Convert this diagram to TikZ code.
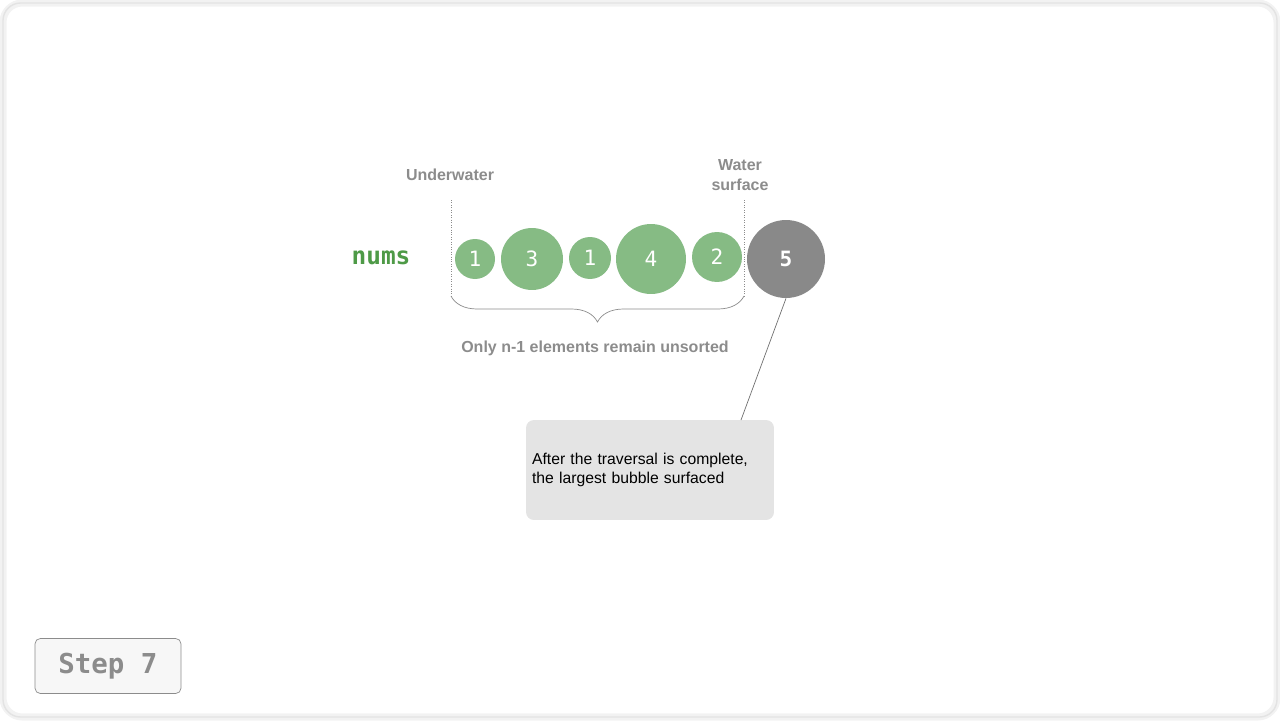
\documentclass[tikz,border=0pt]{standalone}
\usepackage{fontspec}
\setmainfont{Liberation Sans}
\newfontfamily\monofont{DejaVu Sans Mono}
\usetikzlibrary{decorations.pathreplacing}
\definecolor{bubblegreen}{HTML}{86BB84}
\definecolor{numsgreen}{HTML}{4E9A47}
\definecolor{labelgray}{HTML}{8C8C8C}
\definecolor{surfacegray}{HTML}{898989}
\definecolor{notegray}{HTML}{E4E4E4}
\tikzset{
	bubble/.style={circle, fill=bubblegreen, text=white, inner sep=0pt, font=\monofont\fontsize{12}{12}\selectfont},
	toplabel/.style={text=labelgray, font=\bfseries\fontsize{9.1}{11}\selectfont, align=center},
}

\begin{document}
\begin{tikzpicture}[x=0.02cm, y=-0.02cm]
	\useasboundingbox (0,0) rectangle (1280,720);
	\draw [gray!10, line width=4pt, rounded corners=11pt] (3,3) rectangle (1277,717);
	\draw [gray!22, line width=0.8pt, rounded corners=10pt] (3,3) rectangle (1277,717);

	\node [text=numsgreen, font=\monofont\bfseries\fontsize{13.9}{13.9}\selectfont] (nums) at (381,258) {nums};

	\node [bubble, minimum size=0.8cm] (b1) at (475,259) {1};
	\node [bubble, minimum size=1.24cm] (b2) at (532,259) {3};
	\node [bubble, minimum size=0.84cm] (b3) at (590,258) {1};
	\node [bubble, minimum size=1.4cm] (b4) at (651,259) {4};
	\node [bubble, minimum size=1.0cm] (b5) at (717,257) {2};
	\node [bubble, fill=surfacegray, minimum size=1.56cm, font=\monofont\bfseries\fontsize{12}{12}\selectfont] (top) at (786,259) {5};

	\node [toplabel] (under) at (450,175) {Underwater};
	\node [toplabel] (surface) at (740,175) {Water\\surface};

	\draw [labelgray, densely dotted, line width=0.4pt] (451,200) -- (451,296);
	\draw [labelgray, densely dotted, line width=0.4pt] (744,200) -- (744,296);
	\draw [labelgray, line width=0.4pt, decorate, decoration={brace, amplitude=0.52cm}] (744,296) -- (451,296);

	\node [toplabel] (unsorted) at (595,348) {Only n-1 elements remain unsorted};

	\node [fill=notegray, rounded corners=4.5pt, minimum width=4.96cm, minimum height=2cm, text width=4.72cm, inner xsep=0.12cm, align=left, font=\fontsize{8.95}{10.8}\selectfont] (note) at (650,470) {After the traversal is complete,\\the largest bubble surfaced};
	\coordinate (tip) at (741,420);
	\draw [labelgray!80!black, line width=0.4pt] (top.south) -- (tip);

	\node [draw=labelgray, fill=gray!6, rounded corners=3pt, minimum width=2.92cm, minimum height=1.1cm, text=labelgray, font=\monofont\bfseries\fontsize{15.6}{15.6}\selectfont] (step) at (108,666) {Step 7};
\end{tikzpicture}
\end{document}
